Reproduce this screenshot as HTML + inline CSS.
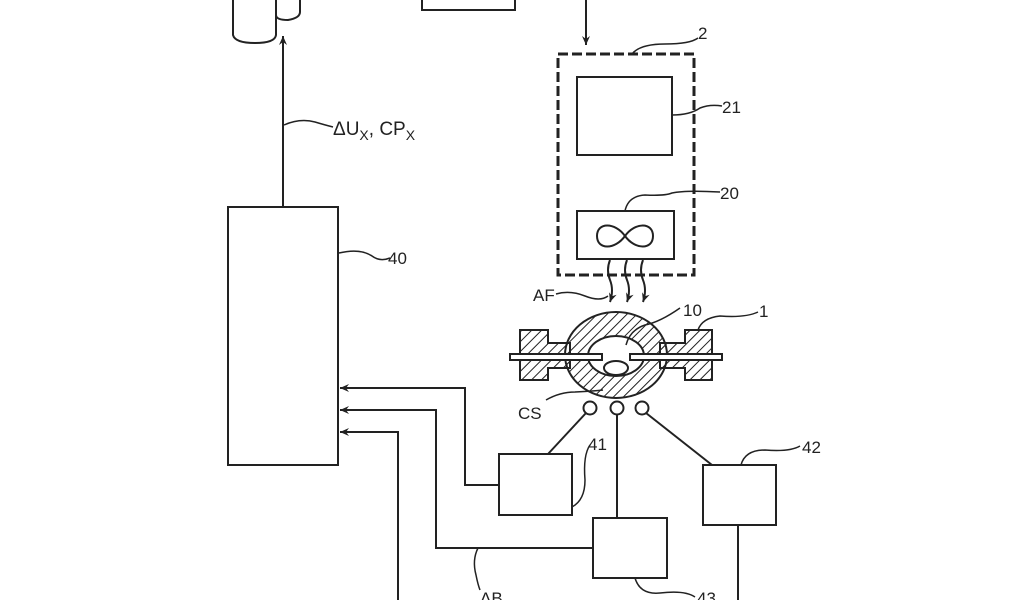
<!DOCTYPE html>
<html><head><style>html,body{margin:0;padding:0;background:#fff;}svg{display:block;}</style></head>
<body>
<svg width="1024" height="600" viewBox="0 0 1024 600" xmlns="http://www.w3.org/2000/svg" font-family="Liberation Sans, sans-serif" fill="none" stroke="#222" stroke-width="2">
<defs>
<pattern id="h" width="7" height="7" patternUnits="userSpaceOnUse" patternTransform="rotate(45)"><line x1="0" y1="0" x2="0" y2="7" stroke="#222" stroke-width="2"/></pattern>
<marker id="a" markerWidth="10" markerHeight="10" refX="9" refY="5" orient="auto" markerUnits="userSpaceOnUse"><path d="M0,1 L9,5 L0,9 L3,5 Z" fill="#222" stroke="none"/></marker>
</defs>
<!-- cylinders -->
<path d="M276,0 L276,15 Q276,20 288,20 Q300,18 300,12 L300,0"/>
<path d="M233,0 L233,35 Q235,43 255,43 Q275,43 276,35 L276,0"/>
<!-- top box -->
<path d="M422,0 L422,10 L515,10 L515,0"/>
<line x1="586" y1="0" x2="586" y2="45" marker-end="url(#a)"/>
<!-- arrow up -->
<line x1="283" y1="207" x2="283" y2="36" marker-end="url(#a)"/>
<path d="M284,125 Q300,118 315,122 Q325,125 333,127" stroke-width="1.5"/>
<text x="333" y="135" font-size="19" fill="#222" stroke="none">ΔU<tspan font-size="14" dy="5">X</tspan><tspan dy="-5">, CP</tspan><tspan font-size="14" dy="5">X</tspan></text>
<!-- box 40 -->
<rect x="228" y="207" width="110" height="258"/>
<path d="M339,253 Q360,248 372,256 Q380,262 390,258" stroke-width="1.5"/>
<text x="388" y="264" font-size="17" fill="#222" stroke="none">40</text>
<!-- dashed box 2 -->
<rect x="558" y="54" width="136" height="221" stroke-width="3" stroke-dasharray="10,4"/>
<path d="M632,54 Q640,44 665,44 Q690,44 698,38" stroke-width="1.5"/>
<text x="698" y="39" font-size="17" fill="#222" stroke="none">2</text>
<rect x="577" y="77" width="95" height="78"/>
<path d="M672,115 Q690,115 700,108 Q710,104 722,106" stroke-width="1.5"/>
<text x="722" y="113" font-size="17" fill="#222" stroke="none">21</text>
<rect x="577" y="211" width="97" height="48"/>
<path d="M625,211 Q628,196 645,195 Q665,196 672,193 Q685,190 720,192" stroke-width="1.5"/>
<text x="720" y="199" font-size="17" fill="#222" stroke="none">20</text>
<path d="M625,236 C615,222 597,222 597,236 C597,250 615,250 625,236 C635,222 653,222 653,236 C653,250 635,250 625,236 Z"/>
<!-- AF arrows -->
<path d="M610,260 q-4,10 0,20 q4,10 0,22" marker-end="url(#a)"/>
<path d="M627,260 q-4,10 0,20 q4,10 0,22" marker-end="url(#a)"/>
<path d="M643,260 q-4,10 0,20 q4,10 0,22" marker-end="url(#a)"/>
<path d="M556,294 Q570,290 585,296 Q600,302 608,296" stroke-width="1.5"/>
<text x="533" y="301" font-size="17" fill="#222" stroke="none">AF</text>
<!-- lamp -->
<g fill="url(#h)">
<path d="M520,330 L548,330 L548,343 L570,343 L570,368 L548,368 L548,380 L520,380 Z"/>
<path d="M712,330 L685,330 L685,343 L660,343 L660,368 L685,368 L685,380 L712,380 Z"/>
<ellipse cx="616" cy="355" rx="51" ry="43"/>
</g>
<ellipse cx="616" cy="356" rx="28" ry="20" fill="#fff"/>
<rect x="510" y="354" width="92" height="6" fill="#fff"/>
<rect x="630" y="354" width="92" height="6" fill="#fff"/>
<ellipse cx="616" cy="368" rx="12" ry="7" fill="#fff"/>
<path d="M626,345 Q630,330 645,325 Q660,322 680,308" stroke-width="1.5"/>
<text x="683" y="316" font-size="17" fill="#222" stroke="none">10</text>
<path d="M698,330 Q702,318 720,316 Q745,318 758,312" stroke-width="1.5"/>
<text x="759" y="317" font-size="17" fill="#222" stroke="none">1</text>
<path d="M546,400 Q560,392 575,392 Q595,391 603,390" stroke-width="1.5"/>
<text x="518" y="419" font-size="17" fill="#222" stroke="none">CS</text>
<!-- sensors -->
<circle cx="590" cy="408" r="6.5"/><circle cx="617" cy="408" r="6.5"/><circle cx="642" cy="408" r="6.5"/>
<line x1="586" y1="413" x2="548" y2="454"/>
<line x1="617" y1="414" x2="617" y2="518"/>
<line x1="646" y1="413" x2="712" y2="465"/>
<!-- box 41 -->
<rect x="499" y="454" width="73" height="61"/>
<path d="M572,507 Q585,500 585,480 Q583,455 590,445" stroke-width="1.5"/>
<text x="588" y="450" font-size="17" fill="#222" stroke="none">41</text>
<!-- box 43 -->
<rect x="593" y="518" width="74" height="60"/>
<path d="M635,578 Q640,595 660,593 Q685,590 695,597" stroke-width="1.5"/>
<text x="697" y="604" font-size="17" fill="#222" stroke="none">43</text>
<!-- box 42 -->
<rect x="703" y="465" width="73" height="60"/>
<path d="M741,465 Q745,450 765,450 Q790,452 800,446" stroke-width="1.5"/>
<text x="802" y="453" font-size="17" fill="#222" stroke="none">42</text>
<line x1="738" y1="525" x2="738" y2="600"/>
<!-- signal lines -->
<path d="M499,485 L465,485 L465,388 L340,388" marker-end="url(#a)"/>
<path d="M593,548 L436,548 L436,410 L340,410" marker-end="url(#a)"/>
<path d="M398,600 L398,432 L340,432" marker-end="url(#a)"/>
<path d="M478,548 Q472,560 476,575 Q478,585 480,590" stroke-width="1.5"/>
<text x="480" y="604" font-size="17" fill="#222" stroke="none">ΔB</text>
</svg>
</body></html>
